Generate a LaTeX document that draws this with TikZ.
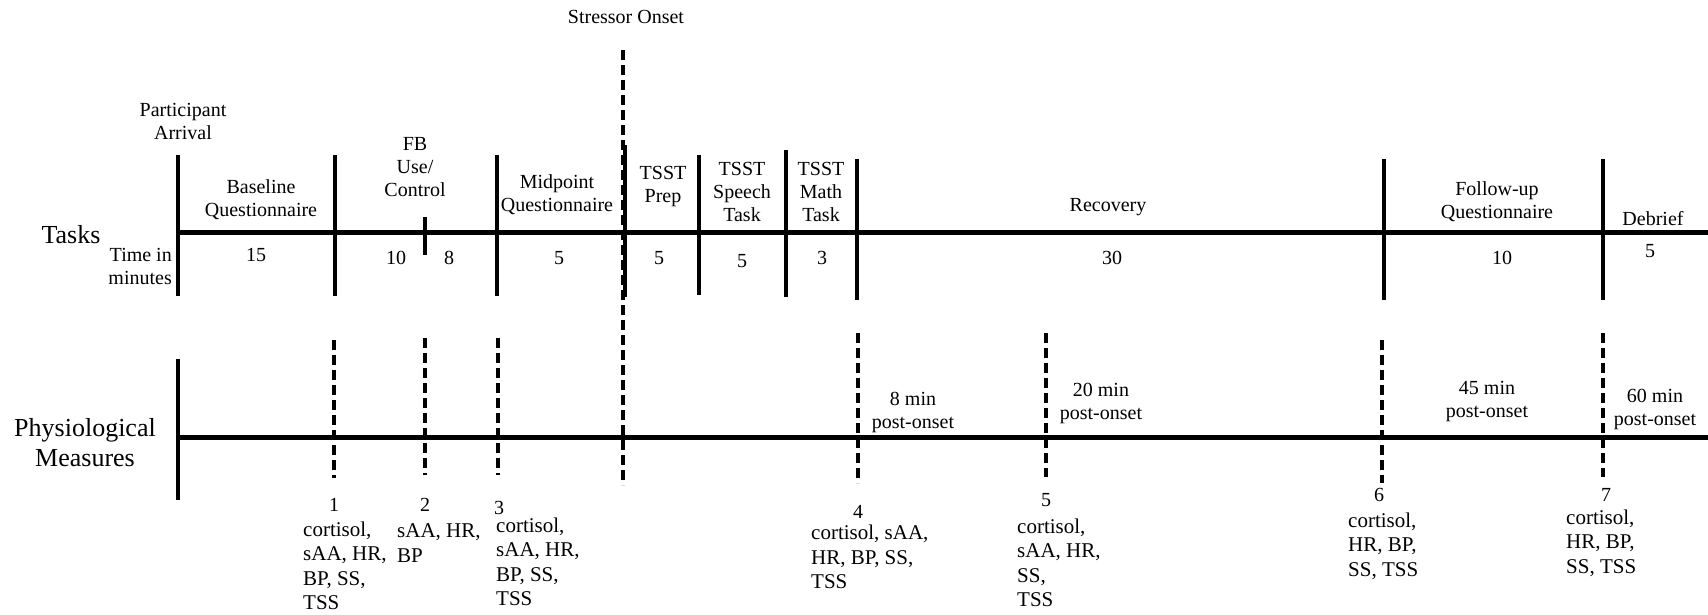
\documentclass[tikz,border=0pt]{standalone}
\usepackage{fontspec}
\setmainfont{Liberation Serif}
\usetikzlibrary{positioning}

\begin{document}
\begin{tikzpicture}[x=1pt,y=-1pt,
  every node/.style={font=\fontsize{20}{23}\selectfont,align=center,inner sep=0pt},
  big/.style={font=\fontsize{26}{30}\selectfont},
  meas/.style={font=\fontsize{21}{24.5}\selectfont,align=left,anchor=west},
  axis/.style={line width=5pt},
  tick/.style={line width=4pt},
  dashtick/.style={line width=3.5pt,dash pattern=on 10pt off 5pt}]
\useasboundingbox (0,0) rectangle (1708,614);

% task row
\node[big] (tasks) at (71,235) {Tasks};
\node[anchor=east,align=right] (timein) at (172,266) {Time in\\minutes};
\node (arrive) at (183,121) {Participant\\Arrival};
\node (onset) at (626,17) {Stressor Onset};
\node (base) at (261,200) {Baseline\\Questionnaire};
\node (fb) at (415,167) {FB\\Use/\\Control};
\node (mid) at (557,195) {Midpoint\\Questionnaire};
\node (prep) at (663,187) {TSST\\Prep};
\node (speech) at (742,192) {TSST\\Speech\\Task};
\node (math) at (821,192) {TSST\\Math\\Task};
\node (recov) at (1108,207) {Recovery};
\node (follow) at (1497,202) {Follow-up\\Questionnaire};
\node (debrief) at (1653,219) {Debrief};
\foreach \n/\x/\y/\t in {t1/256/255/15, t2/396/258/10, t3/449/258/8, t4/559/258/5,
    t5/659/258/5, t6/742/261/5, t7/822/258/3, t8/1112/258/30, t9/1502/258/10, t10/1650/251/5}
  \node (\n) at (\x,\y) {\t};

\draw[axis] (178,232) -- (1708,232);
\foreach \x/\t/\b in {178/155/296, 335/155/296, 497/155/296, 625/145/297, 699/155/295,
    786/150/297, 857/159/300, 1384/159/300, 1603/159/300}
  \draw[tick] (\x,\t) -- (\x,\b);
\draw[tick] (425,217) -- (425,255);
\draw[dashtick] (623,50) -- (623,485);

% physiological row
\node[big] (phys) at (85,443) {Physiological\\Measures};
\draw[axis] (178,437) -- (1708,437);
\draw[tick] (178,359) -- (178,500);
\foreach \x/\t/\b in {334/340/478, 425/338/475, 498/338/475, 858/333/483,
    1046/333/477, 1382/340/483, 1603/333/477}
  \draw[dashtick] (\x,\t) -- (\x,\b);

\node (p8) at (913,412) {8 min\\post-onset};
\node (p20) at (1101,403) {20 min\\post-onset};
\node (p45) at (1487,401) {45 min\\post-onset};
\node (p60) at (1655,409) {60 min\\post-onset};

\node (s1) at (334,505) {1};
\node (s2) at (425,505) {2};
\node (s3) at (499,508) {3};
\node (s4) at (858,512) {4};
\node (s5) at (1046,500) {5};
\node (s6) at (1379,495) {6};
\node (s7) at (1606,495) {7};

\node[meas] (m1) at (303,566) {cortisol,\\sAA, HR,\\BP, SS,\\TSS};
\node[meas] (m2) at (397,543) {sAA, HR,\\BP};
\node[meas] (m3) at (496,562) {cortisol,\\sAA, HR,\\BP, SS,\\TSS};
\node[meas] (m4) at (811,557) {cortisol, sAA,\\HR, BP, SS,\\TSS};
\node[meas] (m5) at (1017,563) {cortisol,\\sAA, HR,\\SS,\\TSS};
\node[meas] (m6) at (1348,546) {cortisol,\\HR, BP,\\SS, TSS};
\node[meas] (m7) at (1566,543) {cortisol,\\HR, BP,\\SS, TSS};
\end{tikzpicture}
\end{document}
